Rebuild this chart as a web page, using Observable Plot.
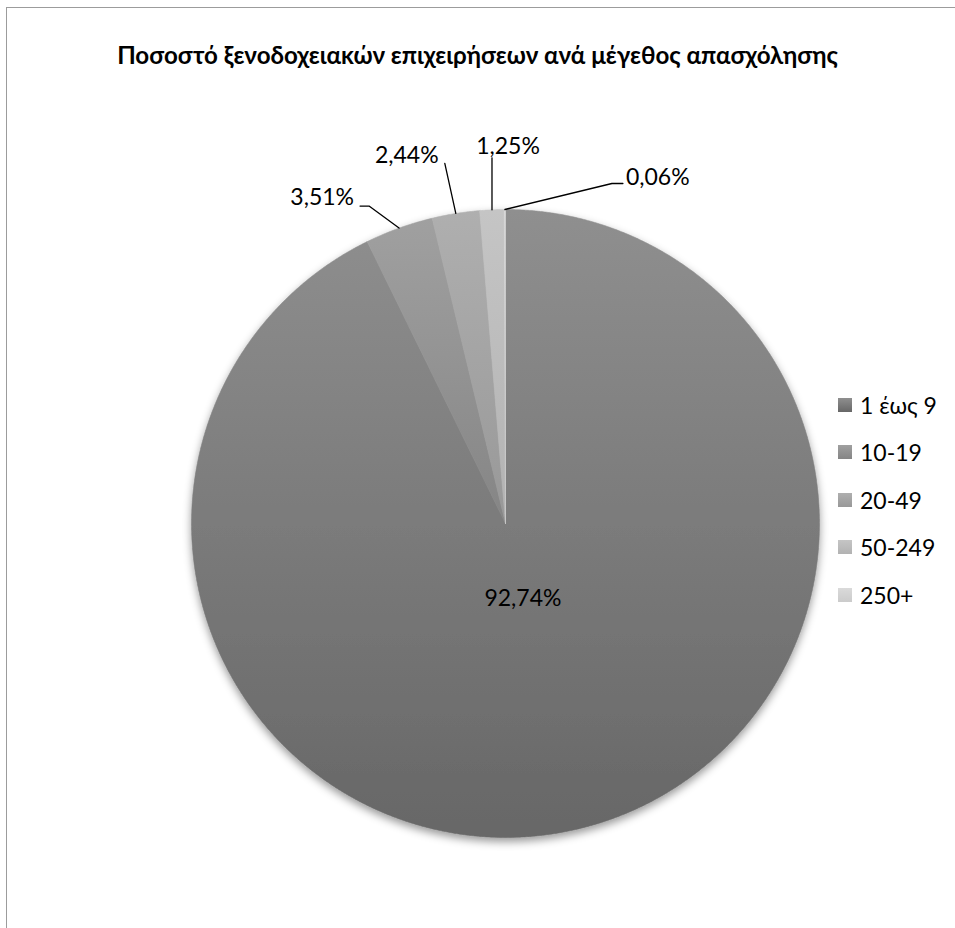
<!DOCTYPE html>
<html>
<head>
<meta charset="utf-8">
<script src="https://cdn.jsdelivr.net/npm/d3@7"></script>
<script src="https://cdn.jsdelivr.net/npm/@observablehq/plot@0.6"></script>
<style>
  body { margin: 0; background: #fff; }
  #chart { position: relative; width: 955px; height: 928px; overflow: hidden; font-family: Lato, "Open Sans", sans-serif; color: #000; }
  #frame { position: absolute; left: 6px; top: 7px; width: 1000px; height: 1000px; border-left: 1.5px solid #9c9c9c; border-top: 1.5px solid #9c9c9c; pointer-events: none; }
  #title { position: relative; height: 90px; box-sizing: border-box; padding-top: 40px; line-height: 30px; text-align: center; font-weight: 700; font-size: 20px; white-space: nowrap; }
  #legend { position: absolute; left: 838px; top: 381px; }
  .row { display: flex; align-items: center; height: 47.5px; font-size: 23px; }
  .sw { width: 14px; height: 14px; margin-right: 8px; }
</style>
</head>
<body>
<div id="chart">
  <div id="frame"></div>
  <div id="title"><span>Ποσοστό ξενοδοχειακών επιχειρήσεων ανά μέγεθος απασχόλησης</span></div>
  <div id="plot"></div>
  <div id="legend"></div>
</div>
<script>
// Employment-size classes of hotel businesses and their share (%)
const categories = ["1 έως 9", "10-19", "20-49", "50-249", "250+"];
const shares = [92.74, 3.51, 2.44, 1.25, 0.06];

// Vertical gradient (top, bottom) for each class
const shades = [
  ["#8f8f8f", "#676767"],
  ["#a0a0a0", "#858585"],
  ["#afafaf", "#989898"],
  ["#c5c5c5", "#b2b2b2"],
  ["#dadada", "#cbcbcb"]
];

// Pie geometry in pixels
const R = 314;
const W = 955, H = 838;
const cx = 505, cy = 433;

// Label placement: outside labels get a leader line bent from the rim (px, y down)
const leaderBends = [null, [[-30, -22], [-39, -22]], [[-11, -50]], [[0, -52]], [[107, -26], [118, -26]]];
const labelShift = [[0, 0, "middle"], [-6, -8, "end"], [-38, -8, "middle"], [16, -11, "middle"], [3, -6, "start"]];
const insideRadius = 0.245;

const fmt = v => v.toFixed(2).replace(".", ",") + "%";

const arcs = d3.pie().sort(null).value(d => d).startAngle(0).endAngle(2 * Math.PI)(shares);

// Slice polygons in unit coordinates (y up, angle clockwise from 12 o'clock)
const slices = arcs.map((a, i) => {
  const pts = [{x: 0, y: 0}];
  const n = Math.max(2, Math.ceil((a.endAngle - a.startAngle) / 0.004));
  for (let k = 0; k <= n; ++k) {
    const t = a.startAngle + (a.endAngle - a.startAngle) * k / n;
    pts.push({x: Math.sin(t), y: Math.cos(t)});
  }
  pts.push({x: 0, y: 0});
  return pts;
});

// Leader lines and label anchors
const leaders = [];
const labels = [];
arcs.forEach((a, i) => {
  const mid = (a.startAngle + a.endAngle) / 2;
  const [sx, sy, anchor] = labelShift[i];
  if (!leaderBends[i]) {
    labels.push({x: insideRadius * Math.sin(mid), y: insideRadius * Math.cos(mid), text: fmt(shares[i]), anchor});
    return;
  }
  const rim = {x: Math.sin(mid), y: Math.cos(mid)};
  const pts = [rim, ...leaderBends[i].map(([dx, dy]) => ({x: rim.x + dx / R, y: rim.y - dy / R}))];
  pts.forEach(p => leaders.push({...p, id: i}));
  const end = pts[pts.length - 1];
  labels.push({x: end.x + sx / R, y: end.y - sy / R, text: fmt(shares[i]), anchor});
});

const sliceMarks = slices.map((pts, i) =>
  Plot.line(pts, {x: "x", y: "y", fill: shades[i][0], stroke: shades[i][0], strokeWidth: 0.6, curve: "linear"})
);

const svg = Plot.plot({
  width: W,
  height: H,
  marginLeft: cx - R,
  marginRight: W - cx - R,
  marginTop: cy - R,
  marginBottom: H - cy - R,
  x: {domain: [-1, 1], axis: null},
  y: {domain: [-1, 1], axis: null},
  style: {background: "transparent", overflow: "visible"},
  marks: [
    ...sliceMarks,
    Plot.line(leaders, {x: "x", y: "y", z: "id", stroke: "#000", strokeWidth: 1.3, curve: "linear"}),
    ...["start", "middle", "end"].map(anchor =>
      Plot.text(labels.filter(d => d.anchor === anchor), {
        x: "x", y: "y", text: "text", textAnchor: anchor,
        fontSize: 23, fontFamily: "Lato, 'Open Sans', sans-serif", fill: "#000"
      })
    )
  ]
});

// Vertical gradients and a soft drop shadow for the pie
const NS = "http://www.w3.org/2000/svg";
const defs = document.createElementNS(NS, "defs");
svg.insertBefore(defs, svg.firstChild);
shades.forEach(([top, bottom], i) => {
  const g = document.createElementNS(NS, "linearGradient");
  g.setAttribute("id", `slice-grad-${i}`);
  g.setAttribute("x1", "0"); g.setAttribute("y1", "0");
  g.setAttribute("x2", "0"); g.setAttribute("y2", "1");
  [[0, top], [1, bottom]].forEach(([o, c]) => {
    const s = document.createElementNS(NS, "stop");
    s.setAttribute("offset", o);
    s.setAttribute("stop-color", c);
    g.appendChild(s);
  });
  defs.appendChild(g);
});
const filter = document.createElementNS(NS, "filter");
filter.setAttribute("id", "pie-shadow");
filter.setAttribute("x", "-0.1"); filter.setAttribute("y", "-0.1");
filter.setAttribute("width", "1.2"); filter.setAttribute("height", "1.25");
const shadow = document.createElementNS(NS, "feDropShadow");
shadow.setAttribute("dx", "0"); shadow.setAttribute("dy", "4");
shadow.setAttribute("stdDeviation", "4");
shadow.setAttribute("flood-color", "#000");
shadow.setAttribute("flood-opacity", "0.4");
filter.appendChild(shadow);
defs.appendChild(filter);

const markGroups = Array.from(svg.querySelectorAll(":scope > g"));
const pieGroups = markGroups.slice(0, slices.length);
const pie = document.createElementNS(NS, "g");
pie.setAttribute("filter", "url(#pie-shadow)");
svg.insertBefore(pie, pieGroups[0]);
pieGroups.forEach((g, i) => {
  g.setAttribute("fill", `url(#slice-grad-${i})`);
  g.setAttribute("stroke", `url(#slice-grad-${i})`);
  pie.appendChild(g);
});

document.getElementById("plot").appendChild(svg);

// Legend
const legend = d3.select("#legend");
categories.forEach((c, i) => {
  const row = legend.append("div").attr("class", "row");
  row.append("div").attr("class", "sw").style("background", `linear-gradient(${shades[i][0]}, ${shades[i][1]})`);
  row.append("span").text(c);
});

// Fit title to its width
const span = document.querySelector("#title span");
const targetWidth = 721;
const fs = 20 * targetWidth / span.getBoundingClientRect().width;
document.getElementById("title").style.fontSize = fs + "px";
</script>
</body>
</html>
